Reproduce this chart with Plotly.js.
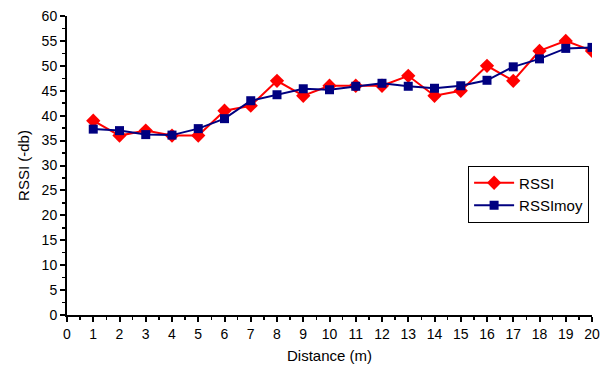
<!DOCTYPE html>
<html><head><meta charset="utf-8">
<script src="https://cdn.plot.ly/plotly-3.0.1.min.js"></script>
<style>body{margin:0;background:#fff}#c{width:605px;height:370px}</style>
</head><body><div id="c"></div>
<script>
const distance = [1,2,3,4,5,6,7,8,9,10,11,12,13,14,15,16,17,18,19,20];
const rssi =    [39,36,37,36,36,41,42,47,44,46,46,46,48,44,45,50,47,53,55,53];
const rssiMoy = [37.3,37.0,36.2,36.1,37.4,39.4,43.0,44.2,45.4,45.2,45.9,46.5,45.9,45.5,46.0,47.1,49.8,51.4,53.5,53.7];
const xTicks = [0,1,2,3,4,5,6,7,8,9,10,11,12,13,14,15,16,17,18,19,20];
const yTicks = [0,5,10,15,20,25,30,35,40,45,50,55,60];

const traces = [
  {x: distance, y: rssi, name: 'RSSI', type: 'scatter', mode: 'lines+markers',
   line: {color: '#ff0000', width: 2}, marker: {symbol: 'diamond', size: 11, color: '#ff0000'}},
  {x: distance, y: rssiMoy, name: 'RSSImoy', type: 'scatter', mode: 'lines+markers',
   line: {color: '#000080', width: 2}, marker: {symbol: 'square', size: 9, color: '#000080'}}
];
const axisCommon = {showline: true, linecolor: '#000', linewidth: 2, ticks: 'outside', ticklen: 5, tickwidth: 2,
  tickcolor: '#000', showgrid: false, zeroline: false, tickfont: {family: 'Liberation Sans, Arial', size: 14, color: '#000'}};
const layout = {
  width: 605, height: 370,
  margin: {l: 67, r: 13, t: 16, b: 55},
  paper_bgcolor: '#fff', plot_bgcolor: '#fff',
  font: {family: 'Liberation Sans, Arial', size: 14, color: '#000'},
  xaxis: Object.assign({}, axisCommon, {range: [0, 20], tickvals: xTicks, ticktext: xTicks.map(String),
    minor: {dtick: 0.5, ticks: 'outside', ticklen: 3, tickwidth: 1.5, tickcolor: '#000'},
    title: {text: 'Distance (m)', font: {size: 15}, standoff: 10}}),
  yaxis: Object.assign({}, axisCommon, {range: [0, 60], tickvals: yTicks, ticktext: yTicks.map(String),
    minor: {dtick: 2.5, ticks: 'outside', ticklen: 3, tickwidth: 1.5, tickcolor: '#000'},
    title: {text: 'RSSI (-db)', font: {size: 15}, standoff: 8}}),
  showlegend: true,
  legend: {x: 0.764, y: 0.5, xanchor: 'left', yanchor: 'top', bgcolor: '#fff', bordercolor: '#000', borderwidth: 1,
    font: {size: 15}, tracegroupgap: 0, itemwidth: 40}
};
Plotly.newPlot('c', traces, layout, {displayModeBar: false, staticPlot: true});
</script></body></html>
